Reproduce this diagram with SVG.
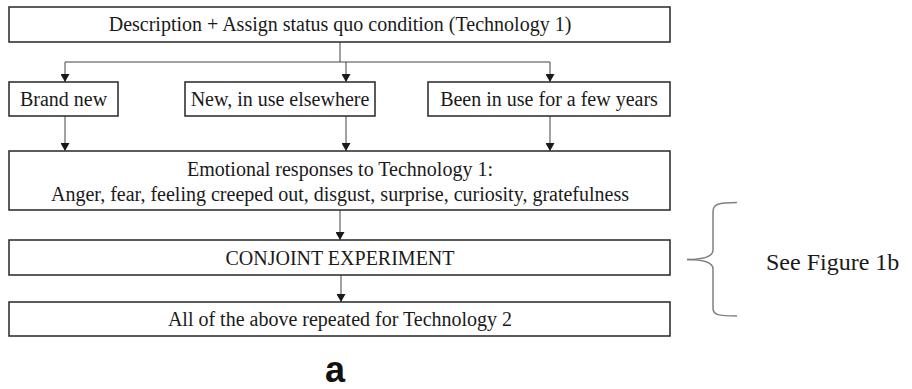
<svg xmlns="http://www.w3.org/2000/svg" width="912" height="389" viewBox="0 0 912 389">
  <defs>
    <marker id="arr" markerWidth="8" markerHeight="9" refX="8" refY="4.5" orient="auto" markerUnits="userSpaceOnUse">
      <path d="M0,0 L8,4.5 L0,9 z" fill="#1a1a1a"/>
    </marker>
    <style>
      .box { fill: #ffffff; stroke: #333333; stroke-width: 1.6; }
      .c { stroke: #444444; stroke-width: 1; fill: none; }
      .ca { stroke: #444444; stroke-width: 1; fill: none; marker-end: url(#arr); }
      .br { stroke: #808080; stroke-width: 1.5; fill: none; }
    </style>
  </defs>
  <rect width="912" height="389" fill="#ffffff"/>

  <g id="connectors">
    <line class="c" x1="340" y1="42" x2="340" y2="62"/>
    <line class="c" x1="65" y1="62" x2="550" y2="62"/>
    <line class="ca" x1="65" y1="62" x2="65" y2="82"/>
    <line class="ca" x1="346" y1="62" x2="346" y2="82"/>
    <line class="ca" x1="550" y1="62" x2="550" y2="82"/>
    <line class="ca" x1="65" y1="116" x2="65" y2="151"/>
    <line class="ca" x1="346" y1="116" x2="346" y2="151"/>
    <line class="ca" x1="550" y1="116" x2="550" y2="151"/>
    <line class="ca" x1="340" y1="210" x2="340" y2="240"/>
    <line class="ca" x1="341" y1="275" x2="341" y2="302"/>
  </g>

  <g font-family="'Liberation Serif', 'Times New Roman', serif" font-size="20" fill="#1a1a1a" text-anchor="middle">
    <g id="description">
      <rect class="box" x="9" y="7" width="661" height="35"/>
      <text x="340" y="31">Description + Assign status quo condition (Technology 1)</text>
    </g>
    <g id="brand-new">
      <rect class="box" x="9" y="82" width="109" height="34"/>
      <text x="63.5" y="106">Brand new</text>
    </g>
    <g id="new-elsewhere">
      <rect class="box" x="185" y="82" width="190" height="34"/>
      <text x="280" y="106">New, in use elsewhere</text>
    </g>
    <g id="few-years">
      <rect class="box" x="428" y="82" width="242" height="34"/>
      <text x="549" y="106">Been in use for a few years</text>
    </g>
    <g id="emotional">
      <rect class="box" x="9" y="151" width="661" height="59"/>
      <text x="340" y="176">Emotional responses to Technology 1:</text>
      <text x="340" y="201">Anger, fear, feeling creeped out, disgust, surprise, curiosity, gratefulness</text>
    </g>
    <g id="conjoint">
      <rect class="box" x="9" y="240" width="661" height="35"/>
      <text x="340" y="265">CONJOINT EXPERIMENT</text>
    </g>
    <g id="repeated">
      <rect class="box" x="9" y="302" width="661" height="34"/>
      <text x="340" y="326">All of the above repeated for Technology 2</text>
    </g>
  </g>

  <g id="bracket">
    <path class="br" d="M687,259.5 C700,259.5 713,258 713,250 L713,212 C713,204 718,202.5 737,202.5"/>
    <path class="br" d="M687,259.5 C700,259.5 713,261 713,269 L713,308 C713,315 718,316 737,316"/>
    <text x="766" y="270" font-family="'Liberation Serif', 'Times New Roman', serif" font-size="24" fill="#1a1a1a">See Figure 1b</text>
  </g>

  <text id="label-a" x="325" y="382" font-family="'Liberation Sans', Arial, sans-serif" font-size="36" font-weight="bold" fill="#111111">a</text>
</svg>
